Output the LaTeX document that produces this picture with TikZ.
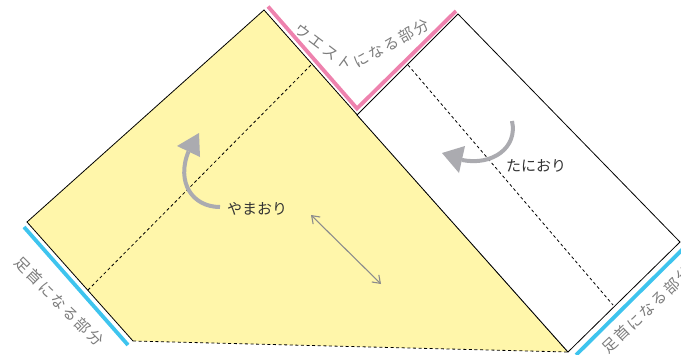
\documentclass[tikz,border=0pt]{standalone}
\usepackage{fontspec}
\newfontfamily\jp{Noto Sans CJK JP}
\usetikzlibrary{calc,arrows.meta}
\definecolor{paperY}{HTML}{FFF6AA}
\definecolor{waistPink}{HTML}{EE82AE}
\definecolor{ankleBlue}{HTML}{3EC4EE}
\definecolor{lblGray}{HTML}{7C7C7C}
\definecolor{arrGray}{HTML}{ABABB0}
\definecolor{dblGray}{HTML}{8C8C8C}
\definecolor{txtDark}{HTML}{333333}
\newcommand{\gp}{\kern2.2pt}
\tikzset{
  edge/.style={draw=black, line width=0.8pt, line join=miter},
  foldline/.style={draw=black, line width=0.8pt, dash pattern=on 3pt off 2.6pt},
  waist/.style={draw=waistPink, line width=3.8pt},
  ankle/.style={draw=ankleBlue, line width=3.8pt},
  lbl/.style={inner sep=0pt, text=lblGray, font=\jp\fontsize{15}{15}\selectfont},
  foldtxt/.style={inner sep=0pt, text=txtDark, font=\jp\fontsize{15}{15}\selectfont},
  bigarrow/.style={draw=arrGray, line width=4pt},
  arrhead/.style={fill=arrGray},
  dbl/.style={draw=dblGray, line width=1.1pt, {Straight Barb[length=7pt,width=10pt]}-{Straight Barb[length=7pt,width=10pt]}}
}
\begin{document}
\begin{tikzpicture}[x=1pt,y=-1pt]
\useasboundingbox (0,0) rectangle (681,354);
\clip (0,0) rectangle (681,354);
% corners
\coordinate (yt) at (264,10);
\coordinate (yl) at (27,222);
\coordinate (ybl) at (133,341);
\coordinate (yb) at (568,352);
\coordinate (wl) at (357,115);
\coordinate (wt) at (458,14);
\coordinate (wr) at (680,242);
% yellow piece
\fill[paperY] (yt) -- (yb) -- (ybl) -- (yl) -- cycle;
\draw[edge] (ybl) -- (yl) -- (yt) -- (yb);
\draw[foldline] (ybl) -- (yb);
% white piece
\filldraw[edge, fill=white] (wl) -- (wt) -- (wr) -- (yb) -- cycle;
% fold lines
\coordinate (f1a) at (88,290);
\coordinate (f1b) at (311,65);
\coordinate (f2a) at (408,65);
\coordinate (f2b) at (613,305);
\draw[foldline] (f1a) -- (f1b);
\draw[foldline] (f2a) -- (f2b);
% waist and ankle marks
\coordinate (p1) at (268,6.5);
\coordinate (p2) at (357,108.5);
\coordinate (p3) at (456,11);
\draw[waist, line join=miter] (p1) -- (p2) -- (p3);
\coordinate (b1) at (24,227);
\coordinate (b2) at (128,345);
\draw[ankle] (b1) -- (b2);
\coordinate (b3) at (576,355);
\coordinate (b4) at (692,240);
\draw[ankle] (b3) -- (b4);
% labels
\node[lbl, rotate=-37] (wa) at (324,47) {ウ\gp エ\gp ス\gp ト};
\node[lbl, rotate=29] (wb) at (391,43.5) {に\gp な\gp る\gp 部\gp 分};
\node[lbl, rotate=-45] (la) at (59,301.5) {足\gp 首\gp に\gp な\gp る\gp 部\gp 分};
\node[lbl, rotate=43.5] (ra) at (647,310) {足\gp 首\gp に\gp な\gp る\gp 部\gp 分};
\node[foldtxt] (yama) at (257,209) {やまおり};
\node[foldtxt] (tani) at (536,166) {たにおり};
% curved arrows
\coordinate (ya0) at (220,207);
\coordinate (ya1) at (188.5,151.5);
\draw[bigarrow] (ya0) .. controls (192,207) and (176,182) .. (ya1);
\fill[arrhead] (199,133) -- (177,146) -- (200,157) -- cycle;
\coordinate (ta0) at (512,121);
\coordinate (ta1) at (462,160);
\draw[bigarrow] (ta0) .. controls (518,148) and (492,166) .. (ta1);
\fill[arrhead] (442,153) -- (465,146) -- (459,173) -- cycle;
% double arrow
\coordinate (d1) at (311,215);
\coordinate (d2) at (381,284);
\draw[dbl] (d1) -- (d2);
\end{tikzpicture}
\end{document}
